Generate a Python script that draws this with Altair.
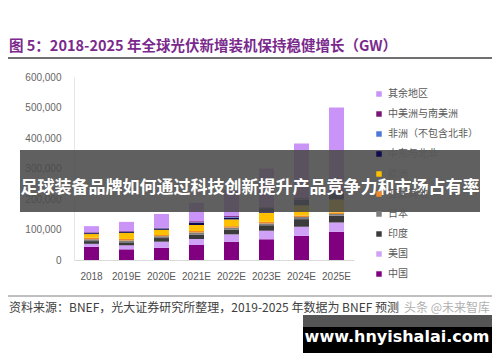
import altair as alt
import pandas as pd

years = ["2018", "2019E", "2020E", "2021E", "2022E", "2023E", "2024E", "2025E"]
regions = ["中国", "美国", "印度", "日本", "亚太其他", "欧洲", "中东与北非",
           "非洲（不包含北非）", "中美洲与南美洲", "其余地区"]
china = [43000, 35000, 40000, 49000, 60000, 68000, 79000, 93000]
usa = [10000, 13000, 20000, 20000, 24000, 28000, 30000, 30000]
india = [9000, 10000, 12000, 15000, 16000, 18000, 25000, 22000]
japan = [6000, 6000, 6000, 6000, 6000, 6000, 7000, 6000]
apac = [5000, 5000, 4000, 5000, 5000, 5000, 5000, 5000]
europe = [12000, 20000, 17000, 20000, 22000, 30000, 33000, 42000]
mena = [3000, 3000, 4000, 7000, 6000, 15000, 19000, 22000]
africa = [1000, 1000, 1000, 2000, 2000, 2000, 2000, 3000]
csa = [2000, 2000, 2000, 3000, 3000, 3000, 3000, 4000]
rest = [20000, 30000, 45000, 61000, 86000, 125000, 179000, 273000]
colors = ["#80007f", "#cfa2f7", "#3b3b3b", "#7f7f7f", "#ee8a2a", "#ffc000",
          "#0d0a4f", "#4e79d8", "#7a1577", "#c993f7"]
y_ticks = [0, 100000, 200000, 300000, 400000, 500000, 600000]

title_text = "图 5：2018-2025 年全球光伏新增装机保持稳健增长（GW）"
source_text = "资料来源：BNEF，光大证券研究所整理，2019-2025 年数据为 BNEF 预测"
banner_text = "足球装备品牌如何通过科技创新提升产品竞争力和市场占有率"
wm_text = "www.hnyishalai.com"
weibo_text = "头条 @未来智库"

series = [china, usa, india, japan, apac, europe, mena, africa, csa, rest]
rows = []
for ri, r in enumerate(regions):
    for yi, yr in enumerate(years):
        rows.append({"year": yr, "region": r, "value": series[ri][yi], "order": ri})
df = pd.DataFrame(rows)

FONT = "Liberation Sans, Arial, Noto Sans CJK SC"
CJK = "Noto Sans CJK SC"

bars = alt.Chart(df).mark_bar().encode(
    x=alt.X("year:N", sort=years,
            scale=alt.Scale(paddingInner=0.57, paddingOuter=0.285),
            axis=alt.Axis(title=None, labelAngle=0, ticks=False, domain=True,
                          domainColor="#d9d9d9", labelFontSize=10, labelColor="#595959",
                          labelPadding=11, labelFont=FONT)),
    y=alt.Y("value:Q", stack="zero",
            scale=alt.Scale(domain=[0, 600000], nice=False),
            axis=alt.Axis(title=None, values=y_ticks, format=",.0f", grid=False, ticks=False,
                          domainColor="#e6e6e6", labelPadding=13, labelFontSize=10,
                          labelColor="#666666", labelFont=FONT)),
    color=alt.Color("region:N",
                    scale=alt.Scale(domain=regions[::-1], range=colors[::-1]),
                    legend=alt.Legend(title=None, orient="none", legendX=300, legendY=12,
                                      symbolType="square", symbolSize=30, symbolStrokeWidth=0,
                                      labelFontSize=10, labelColor="#595959", labelFont=CJK,
                                      rowPadding=10, labelLimit=200, padding=0)),
    order=alt.Order("order:Q", sort="ascending"),
)

def one(txt):
    return pd.DataFrame({"t": [txt]})

title = alt.Chart(one(title_text)).mark_text(
    align="left", baseline="alphabetic", fontSize=14.5, fontWeight="bold",
    color="#7a2a8c", font=CJK
).encode(x=alt.value(-65), y=alt.value(-26), text="t:N")

top_rule = alt.Chart(one("a")).mark_rule(color="#404040", strokeWidth=1.5).encode(
    x=alt.value(-66), x2=alt.value(418), y=alt.value(-19))

bottom_rule = alt.Chart(one("b")).mark_rule(color="#808080", strokeWidth=1).encode(
    x=alt.value(-66), x2=alt.value(418), y=alt.value(219))

source = alt.Chart(one(source_text)).mark_text(
    align="left", baseline="middle", fontSize=12, color="#404040", font=CJK
).encode(x=alt.value(-65), y=alt.value(231), text="t:N")

weibo = alt.Chart(one(weibo_text)).mark_text(
    align="left", baseline="middle", fontSize=12, color="#b0b0b0", font=CJK
).encode(x=alt.value(330), y=alt.value(231), text="t:N")

banner = alt.Chart(one("c")).mark_rect(color="#4a4a4a", opacity=0.88).encode(
    x=alt.value(-54), x2=alt.value(406), y=alt.value(73), y2=alt.value(135))

banner_t = alt.Chart(one(banner_text)).mark_text(
    align="center", baseline="middle", fontSize=17, fontWeight="bold",
    color="white", font=CJK
).encode(x=alt.value(176), y=alt.value(111), text="t:N")

wm_gray = alt.Chart(one("d")).mark_rect(color="#555555").encode(
    x=alt.value(229), x2=alt.value(418), y=alt.value(238), y2=alt.value(250))
wm_black = alt.Chart(one("e")).mark_rect(color="#000000").encode(
    x=alt.value(229), x2=alt.value(418), y=alt.value(250), y2=alt.value(276))
wm_t = alt.Chart(one(wm_text)).mark_text(
    align="center", baseline="middle", fontSize=16, fontWeight="bold",
    color="white", font="DejaVu Sans"
).encode(x=alt.value(323), y=alt.value(260), text="t:N")

chart = alt.layer(
    bars, title, top_rule, bottom_rule, source, weibo, banner, banner_t,
    wm_gray, wm_black, wm_t
).properties(
    width=280, height=183,
    autosize=alt.AutoSizeParams(type="none"),
    padding={"left": 66, "top": 69, "right": 138, "bottom": 94},
    background="white",
).configure_view(stroke=None)

chart.save("out.html", embed_options={"renderer": "svg", "actions": False})
